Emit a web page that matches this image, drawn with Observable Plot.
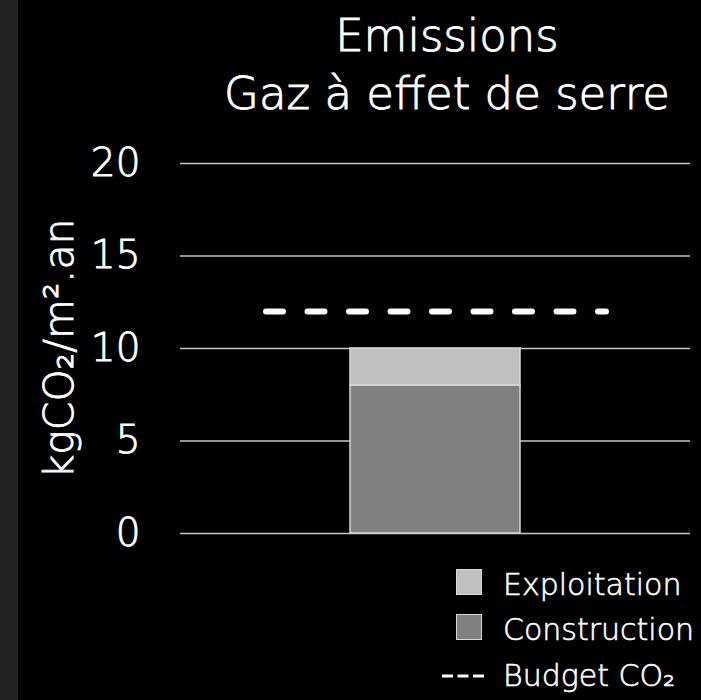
<!DOCTYPE html>
<html>
<head>
<meta charset="utf-8">
<script src="https://cdn.jsdelivr.net/npm/d3@7"></script>
<script src="https://cdn.jsdelivr.net/npm/@observablehq/plot@0.6"></script>
<style>
  body { margin: 0; background: #000; }
  #wrap { position: relative; width: 701px; height: 700px; background: #000; overflow: hidden;
          font-family: "DejaVu Sans", sans-serif; font-weight: 200; color: #fff; }
  #strip { position: absolute; left: 0; top: 0; width: 18px; height: 700px; background: #222; }
  #chart { position: absolute; left: 0; top: 0; }
  #chart svg text { font-weight: 200; stroke: #fff; stroke-width: 0.9px; }
  #title { position: absolute; left: 193px; width: 508px; top: 7px; text-align: center;
           font-size: 45px; line-height: 58px; white-space: nowrap; -webkit-text-stroke: 0.9px #fff; }
  .leg { position: absolute; left: 503px; font-size: 30px; line-height: 28px; white-space: nowrap;
         -webkit-text-stroke: 0.6px #fff; }
  .sw { position: absolute; left: 456px; width: 24px; height: 24px; border: 1.5px solid #d8d8d8; }
  #budgetKey { position: absolute; left: 441px; top: 670px; }
</style>
</head>
<body>
<div id="wrap">
  <div id="strip"></div>
  <div id="chart"></div>
  <div id="title">Emissions<br>Gaz à effet de serre</div>
  <div id="legend"></div>
</div>
<script>
// ---- data ----
const categories = ["Projet"];
const series = ["Construction", "Exploitation"];
const values = [8, 2];
const budget = [12];
const yTicks = [0, 5, 10, 15, 20];
const yLabel = "kgCO₂/m².an";
const colors = ["#808080", "#c0c0c0"];
const legendItems = ["Exploitation", "Construction"];
const budgetLabel = "Budget CO₂";

const data = series.map((s, i) => ({cat: categories[0], serie: s, value: values[i]}));

const chart = Plot.plot({
  width: 701,
  height: 700,
  marginTop: 163,
  marginBottom: 167,
  marginLeft: 180,
  marginRight: 11,
  style: {background: "transparent", color: "#fff", fontFamily: "DejaVu Sans, sans-serif"},
  x: {domain: categories, padding: 0.5, axis: null},
  y: {domain: [0, 20]},
  color: {domain: series, range: colors},
  marks: [
    Plot.ruleY(yTicks, {stroke: "#c8c8c8", strokeWidth: 1.5}),
    Plot.barY(data, {x: "cat", y: "value", fill: "serie", stroke: "#d8d8d8", strokeWidth: 1.5}),
    Plot.ruleY(budget, {stroke: "#fff", strokeWidth: 6, strokeDasharray: "17,24.5", strokeLinecap: "round",
                        insetLeft: 86, insetRight: 84}),
    Plot.axisY({ticks: yTicks, tickSize: 0, tickPadding: 40, fontSize: 39, fill: "#fff",
                label: yLabel, labelAnchor: "center", labelOffset: 137, labelArrow: "none"})
  ]
});
document.getElementById("chart").appendChild(chart);
// enlarge the rotated axis label slightly
chart.querySelectorAll("g[aria-label='y-axis label'] text").forEach(t => t.setAttribute("font-size", 41));

// ---- legend (HTML) ----
const leg = document.getElementById("legend");
const rowTops = [569, 614];
legendItems.forEach((name, i) => {
  const sw = document.createElement("div");
  sw.className = "sw";
  sw.style.top = rowTops[i] + "px";
  sw.style.background = colors[series.indexOf(name)];
  leg.appendChild(sw);
  const t = document.createElement("div");
  t.className = "leg";
  t.style.top = (rowTops[i] + 2) + "px";
  t.textContent = name;
  leg.appendChild(t);
});
const bk = document.createElementNS("http://www.w3.org/2000/svg", "svg");
bk.setAttribute("id", "budgetKey");
bk.setAttribute("width", "46");
bk.setAttribute("height", "12");
bk.innerHTML = '<line x1="1" y1="6" x2="43" y2="6" stroke="#fff" stroke-width="3" stroke-dasharray="11,4.5"/>';
leg.appendChild(bk);
const bt = document.createElement("div");
bt.className = "leg";
bt.style.top = "662px";
bt.textContent = budgetLabel;
leg.appendChild(bt);
</script>
</body>
</html>
